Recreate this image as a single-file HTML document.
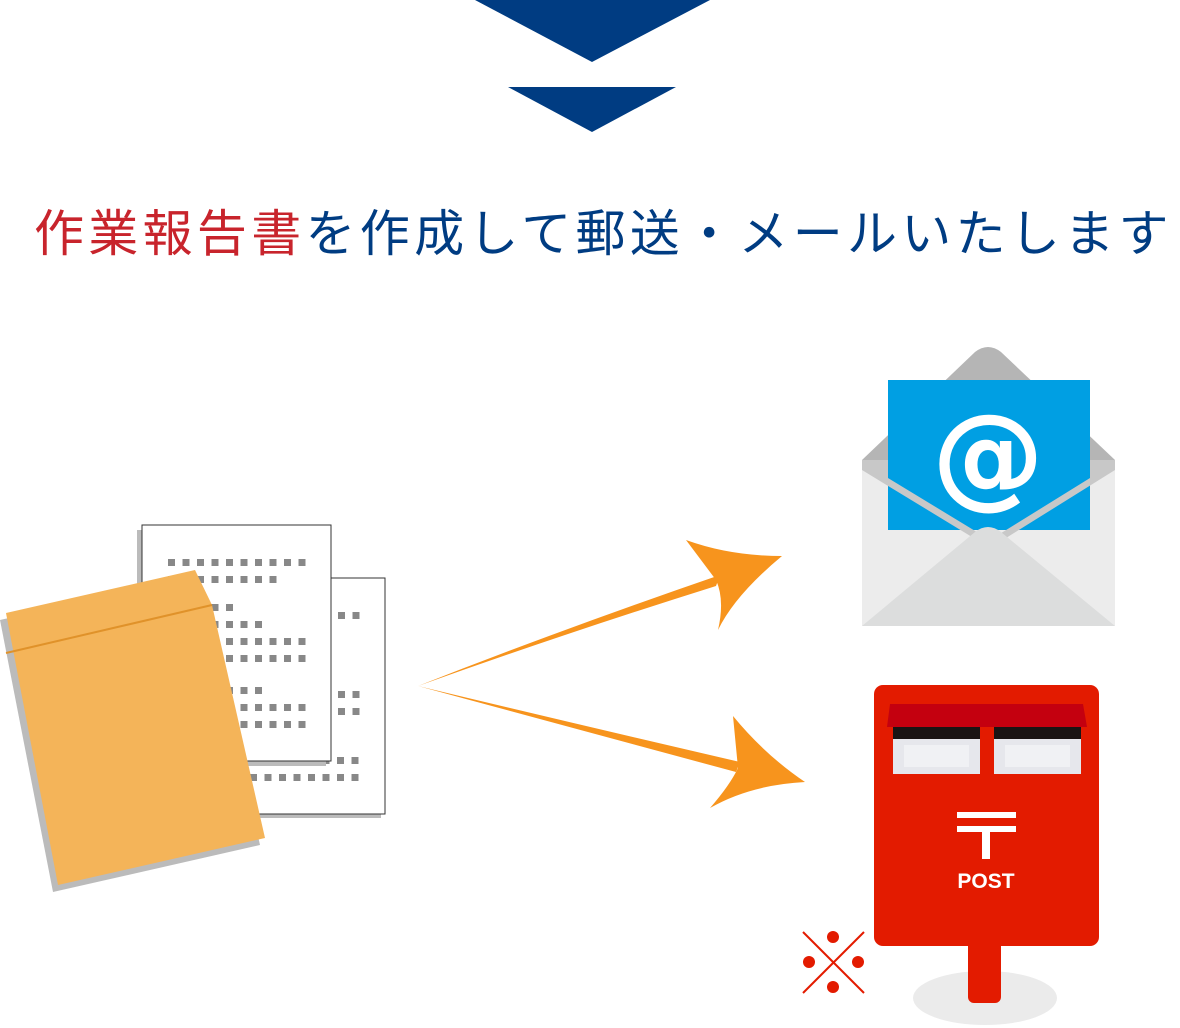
<!DOCTYPE html>
<html><head><meta charset="utf-8"><style>
body{margin:0;background:#fff;width:1180px;height:1028px;overflow:hidden}
svg{display:block}
</style></head><body>
<svg width="1180" height="1028" viewBox="0 0 1180 1028" xmlns="http://www.w3.org/2000/svg">
<polygon points="475,0 710,0 592,62" fill="#003c82"/>
<polygon points="508,87 676,87 592,132" fill="#003c82"/>
<text x="34" y="251" font-family="Liberation Sans, Noto Sans CJK JP, sans-serif" font-size="50" letter-spacing="4.3"><tspan fill="#c8242c">作業報告書</tspan><tspan fill="#003c82">を作成して郵送・メールいたします</tspan></text>

<!-- back page -->
<rect x="196" y="582" width="185" height="236" fill="#bbb"/>
<rect x="200" y="578" width="185" height="236" fill="#fff" stroke="#333" stroke-width="1"/>
<g stroke="#888" stroke-width="7" stroke-dasharray="7 7.5">
<line x1="338" y1="615.5" x2="360" y2="615.5"/>
<line x1="338" y1="694.5" x2="360" y2="694.5"/>
<line x1="338" y1="711.5" x2="360" y2="711.5"/>
<line x1="250" y1="760.5" x2="360" y2="760.5"/>
<line x1="250" y1="777.5" x2="360" y2="777.5"/>
</g>
<!-- front page -->
<rect x="137" y="530" width="189" height="236" fill="#bbb"/>
<rect x="142" y="525" width="189" height="236" fill="#fff" stroke="#333" stroke-width="1"/>
<g stroke="#888" stroke-width="7" stroke-dasharray="7 7.5">
<line x1="168" y1="562.5" x2="308" y2="562.5"/>
<line x1="168" y1="579.5" x2="279" y2="579.5"/>
<line x1="168" y1="607.5" x2="236" y2="607.5"/>
<line x1="168" y1="624.5" x2="265" y2="624.5"/>
<line x1="168" y1="641.5" x2="308" y2="641.5"/>
<line x1="168" y1="658.5" x2="308" y2="658.5"/>
<line x1="168" y1="690.5" x2="265" y2="690.5"/>
<line x1="168" y1="707.5" x2="308" y2="707.5"/>
<line x1="168" y1="724.5" x2="308" y2="724.5"/>
</g>
<!-- envelope -->
<polygon points="0,620 190,577 207,612 260,845 53,892" fill="#bbb"/>
<polygon points="6,613 195,570 212,605 265,838 58,885" fill="#f4b459"/>
<line x1="6" y1="653" x2="212" y2="605" stroke="#e0922a" stroke-width="2"/>

<!-- arrows -->
<path d="M418,686 Q560,630 720,575 L716,586 Q560,635 418,686Z" fill="#f7941d"/>
<path d="M686,540 Q730,556 782,556 Q735,595 718,630 Q725,600 716,580Z" fill="#f7941d"/>
<path d="M418,686 Q580,725 740,762 L736,772 Q580,730 418,686Z" fill="#f7941d"/>
<path d="M733,716 Q765,755 805,782 Q750,785 710,808 Q730,785 738,768Z" fill="#f7941d"/>

<!-- mail -->
<path d="M862,460 L975,352 Q988,342 1001,352 L1115,460Z" fill="#b5b5b5"/>
<rect x="862" y="460" width="253" height="166" fill="#ececec"/>
<rect x="888" y="380" width="202" height="150" fill="#009fe3"/>
<polygon points="862,460 888,460 888,478 990,540 1090,478 1090,460 1115,460 1115,470 990,548 862,470" fill="#c8c8c8"/>
<path d="M862,626 L975,532 Q988,522 1001,532 L1115,626Z" fill="#dcdddd"/>
<text x="988" y="494" text-anchor="middle" font-family="DejaVu Sans, sans-serif" font-weight="bold" font-size="112" fill="#fff">@</text>

<!-- post -->
<ellipse cx="985" cy="998" rx="72" ry="27" fill="#ebebeb"/>
<rect x="968" y="940" width="33" height="63" rx="6" fill="#e31b00"/>
<rect x="874" y="685" width="225" height="261" rx="9" fill="#e31b00"/>
<polygon points="890,704 1083,704 1087,727 887,727" fill="#c4000f"/>
<rect x="893" y="727" width="87" height="12" fill="#1a1414"/>
<rect x="994" y="727" width="87" height="12" fill="#1a1414"/>
<rect x="893" y="739" width="87" height="35" fill="#e6e7ec"/>
<rect x="994" y="739" width="87" height="35" fill="#e6e7ec"/>
<rect x="904" y="745" width="65" height="22" fill="#f0f1f4"/>
<rect x="1005" y="745" width="65" height="22" fill="#f0f1f4"/>
<rect x="957" y="812" width="59" height="6" fill="#fff"/>
<rect x="957" y="826" width="59" height="6" fill="#fff"/>
<rect x="982" y="832" width="8" height="27" fill="#fff"/>
<text x="986" y="888" text-anchor="middle" font-family="Liberation Sans, sans-serif" font-weight="bold" font-size="21" fill="#fff">POST</text>

<!-- kome -->
<g stroke="#e31b00" stroke-width="2"><line x1="803" y1="932" x2="864" y2="993"/><line x1="864" y1="932" x2="803" y2="993"/></g>
<g fill="#e31b00"><circle cx="833" cy="937" r="6"/><circle cx="833" cy="987" r="6"/><circle cx="809" cy="962" r="6"/><circle cx="858" cy="962" r="6"/></g>
</svg>
</body></html>
